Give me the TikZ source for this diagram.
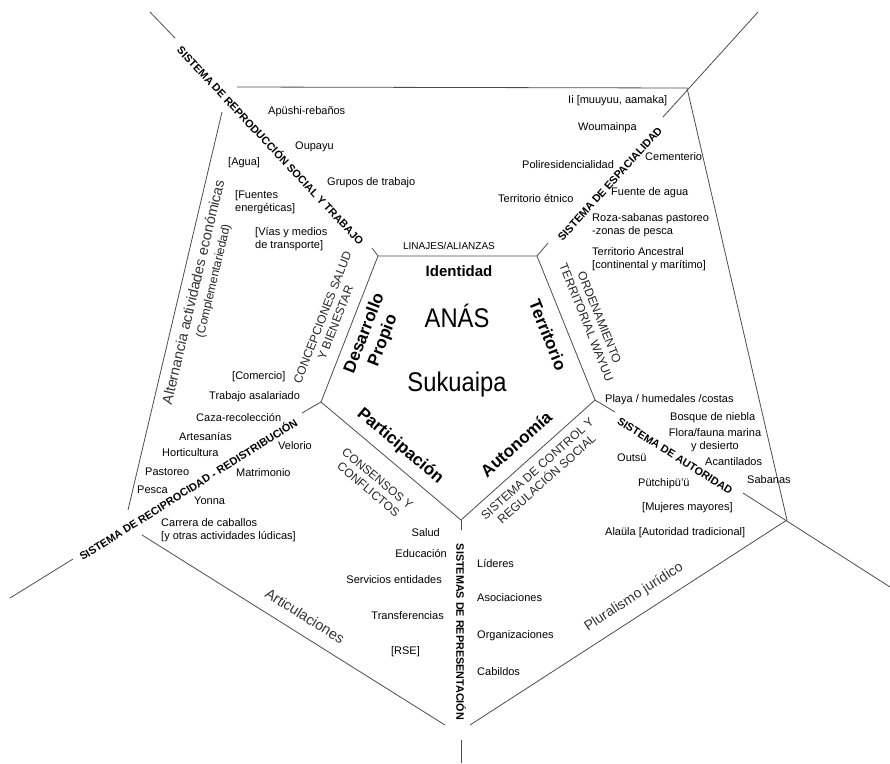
\documentclass[tikz,border=0pt]{standalone}
\usepackage{fontspec}
\setmainfont{Liberation Sans}
\begin{document}
\begin{tikzpicture}[x=1pt,y=-1pt,
  ln/.style={draw=black!70, line width=0.8pt},
  item/.style={font=\fontsize{11}{13}\selectfont, inner sep=0pt, anchor=west, align=left},
  itemr/.style={font=\fontsize{11}{13}\selectfont, inner sep=0pt, anchor=east, align=right},
  sys/.style={font=\bfseries\fontsize{10.8}{12}\selectfont, inner sep=0pt},
  pillar/.style={font=\bfseries\fontsize{17}{20}\selectfont, inner sep=0pt, align=center},
  capl/.style={font=\fontsize{12}{14}\selectfont, inner sep=0pt, align=center, text=black!85},
  arcl/.style={font=\fontsize{14.5}{16}\selectfont, inner sep=0pt, text=black!80},
  big/.style={font=\fontsize{27}{30}\selectfont, inner sep=0pt}]
\useasboundingbox (0,0) rectangle (890,763);
% inner pentagon
\coordinate (A) at (378,256);
\coordinate (B) at (537,256);
\coordinate (C) at (595,400);
\coordinate (D) at (461,520);
\coordinate (E) at (321,402);
\draw[ln] (A) -- (B) -- (C) -- (D) -- (E) -- cycle;
% stubs of spokes
\coordinate (As) at (372,248);
\coordinate (Bs) at (548,243);
\coordinate (Cs) at (615,412);
\coordinate (Ds) at (461,530);
\coordinate (Es) at (302,413);
\draw[ln] (A) -- (As);
\draw[ln] (B) -- (Bs);
\draw[ln] (C) -- (Cs);
\draw[ln] (D) -- (Ds);
\draw[ln] (E) -- (Es);
% outer pentagon
\coordinate (O1a) at (237,87);
\coordinate (O2) at (687,88);
\coordinate (O3) at (787,520);
\coordinate (O4r) at (470,725);
\coordinate (O4l) at (445,725);
\coordinate (O5b) at (142,535);
\coordinate (O5a) at (128,510);
\coordinate (O1b) at (222,112);
\draw[ln] (O1a) -- (O2) -- (O3) -- (O4r);
\draw[ln] (O4l) -- (O5b);
\draw[ln] (O5a) -- (O1b);
% outer spokes
\coordinate (T1a) at (150,12);  \coordinate (T1b) at (175,38);
\coordinate (T2a) at (758,12);  \coordinate (T2b) at (663,117);
\coordinate (T3a) at (743,493); \coordinate (T3b) at (890,587);
\coordinate (T4a) at (461,740); \coordinate (T4b) at (461,763);
\coordinate (T5a) at (73,559);  \coordinate (T5b) at (10,598);
\draw[ln] (T1a) -- (T1b);
\draw[ln] (T2a) -- (T2b);
\draw[ln] (T3a) -- (T3b);
\draw[ln] (T4a) -- (T4b);
\draw[ln] (T5a) -- (T5b);
% system labels
\node[sys, rotate=-46.9] (s1) at (271,145) {SISTEMA DE REPRODUCCIÓN SOCIAL Y TRABAJO};
\node[sys, rotate=47.8] (s2) at (610,184) {SISTEMA DE ESPACIALIDAD};
\node[sys, rotate=-32.4] (s3) at (675,456) {SISTEMA DE AUTORIDAD};
\node[sys, rotate=-90] (s4) at (461,632) {SISTEMAS DE REPRESENTACIÓN};
\node[sys, rotate=32.2] (s5) at (188,489) {SISTEMA DE RECIPROCIDAD - REDISTRIBUCIÓN};
% center
\node[big] (anas) at (457,316) {\scalebox{0.88}[1]{ANÁS}};
\node[big] (suk) at (457,385) {\scalebox{0.88}[1]{Sukuaipa}};
% pillars
\node[font=\fontsize{10}{12}\selectfont, inner sep=0pt] (lin) at (449,246) {LINAJES/ALIANZAS};
\node[pillar, font=\bfseries\fontsize{15}{18}\selectfont] (ident) at (459,271) {Identidad};
\node[pillar, rotate=68.7] (desa) at (374,337) {Desarrollo\\Propio};
\node[capl, rotate=68.7] (conc) at (329,320) {CONCEPCIONES SALUD\\Y BIENESTAR};
\node[pillar, rotate=-68.1] (terr) at (548,335) {Territorio};
\node[capl, rotate=-68.1] (orde) at (593,320) {ORDENAMIENTO\\TERRITORIAL WAYUU};
\node[pillar, rotate=41.8] (auto) at (516,444) {Autonomía};
\node[capl, rotate=41.8] (ctrl) at (542,474) {SISTEMA DE CONTROL Y\\REGULACIÓN SOCIAL};
\node[pillar, rotate=-40.1] (part) at (400,446) {Participación};
\node[capl, rotate=-40.1] (cons) at (373,484) {CONSENSOS Y\\CONFLICTOS};
% outer edge labels
\node[arcl, rotate=76.7] (alt) at (193,292) {Alternancia actividades económicas};
\node[capl, rotate=76.7] (comp) at (214,281) {(Complementariedad)};
\node[arcl, rotate=-32.1] (arti) at (305,616) {Articulaciones};
\node[arcl, font=\fontsize{14}{16}\selectfont, rotate=32.9] (plur) at (634,597) {Pluralismo jurídico};
% top-left items
\node[item] (i1) at (268,112) {Apüshi-rebaños};
\node[item] (i2) at (295,147) {Oupayu};
\node[item] (i3) at (228,163) {[Agua]};
\node[item] (i4) at (327,183) {Grupos de trabajo};
\node[item] (i5) at (235,202) {[Fuentes\\energéticas]};
\node[item] (i6) at (255,239) {[Vías y medios\\de transporte]};
% top-right items
\node[item] (j1) at (568,101) {Ii [muuyuu, aamaka]};
\node[item] (j2) at (578,128) {Woumainpa};
\node[item] (j3) at (645,157) {Cementerio};
\node[item] (j4) at (522,165) {Poliresidencialidad};
\node[item] (j5) at (611,193) {Fuente de agua};
\node[item] (j6) at (498,198) {Territorio étnico};
\node[item] (j7) at (592,225) {Roza-sabanas pastoreo\\-zonas de pesca};
\node[item] (j8) at (592,259) {Territorio Ancestral\\ {[continental y marítimo]}};
% right items
\node[item] (k1) at (605,400) {Playa / humedales /costas};
\node[item] (k2) at (670,418) {Bosque de niebla};
\node[item, anchor=center, align=center] (k3) at (715,440) {Flora/fauna marina\\y desierto};
\node[item] (k4) at (617,458) {Outsü};
\node[item] (k5) at (705,462) {Acantilados};
\node[item] (k6) at (747,480) {Sabanas};
\node[item] (k7) at (638,484) {Pütchipü'ü};
\node[item] (k8) at (642,508) {[Mujeres mayores]};
\node[item] (k9) at (605,533) {Alaüla [Autoridad tradicional]};
% left items
\node[item] (l1) at (232,377) {[Comercio]};
\node[item] (l2) at (209,397) {Trabajo asalariado};
\node[item] (l3) at (196,417) {Caza-recolección};
\node[item] (l4) at (179,436) {Artesanías};
\node[item] (l5) at (278,446) {Velorio};
\node[item] (l6) at (162,453) {Horticultura};
\node[item] (l7) at (145,472) {Pastoreo};
\node[item] (l8) at (236,473) {Matrimonio};
\node[item] (l9) at (137,490) {Pesca};
\node[item] (l10) at (194,501) {Yonna};
\node[item] (l11) at (161,530) {Carrera de caballos\\ {[y otras actividades lúdicas]}};
% bottom items
\node[itemr] (m1) at (440,533) {Salud};
\node[itemr] (m2) at (447,553) {Educación};
\node[itemr] (m3) at (442,580) {Servicios entidades};
\node[itemr] (m4) at (444,616) {Transferencias};
\node[itemr] (m5) at (420,652) {[RSE]};
\node[item] (n1) at (477,563) {Líderes};
\node[item] (n2) at (477,598) {Asociaciones};
\node[item] (n3) at (477,636) {Organizaciones};
\node[item] (n4) at (477,672) {Cabildos};
\end{tikzpicture}
\end{document}
